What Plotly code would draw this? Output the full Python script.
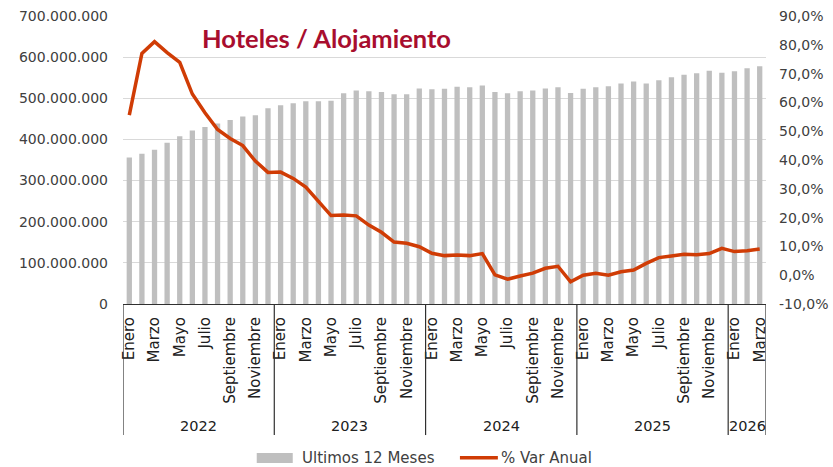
import plotly.graph_objects as go

# Monthly series, Jan 2022 - Mar 2026
years = ["2022", "2023", "2024", "2025", "2026"]
months_per_year = [12, 12, 12, 12, 3]
month_names = ["Enero", "Febrero", "Marzo", "Abril", "Mayo", "Junio", "Julio",
               "Agosto", "Septiembre", "Octubre", "Noviembre", "Diciembre"]

# Rolling 12-month total
ultimos_12 = [
    356e6, 365e6, 375e6, 392e6, 408e6, 422e6, 430e6, 439e6, 447e6, 456e6, 459e6, 476e6,
    483e6, 488e6, 493e6, 493e6, 494e6, 512e6, 519e6, 517e6, 515e6, 510e6, 510e6, 524e6,
    522e6, 523e6, 528e6, 527e6, 531e6, 515e6, 512e6, 517e6, 519e6, 524e6, 527e6, 513e6,
    523e6, 527e6, 529e6, 536e6, 541e6, 536e6, 544e6, 551e6, 557e6, 561e6, 567e6, 562e6,
    566e6, 573e6, 578e6,
]

# Year-over-year change (%)
var_anual = [
    55.6, 77.0, 81.1, 77.3, 73.9, 62.9, 56.4, 50.6, 47.5, 45.0, 39.6, 35.7,
    35.8, 33.6, 30.6, 25.5, 20.7, 20.9, 20.6, 17.4, 14.9, 11.5, 11.1, 9.9,
    7.6, 6.8, 7.0, 6.8, 7.5, 0.1, -1.4, -0.3, 0.7, 2.4, 3.1, -2.3,
    0.0, 0.7, 0.0, 1.2, 1.8, 4.1, 6.1, 6.7, 7.3, 7.1, 7.5, 9.3,
    8.2, 8.5, 9.1,
]

pct_ticks = [-10, 0, 10, 20, 30, 40, 50, 60, 70, 80, 90]
pct_tick_text = ["-10,0%", "0,0%", "10,0%", "20,0%", "30,0%", "40,0%",
                 "50,0%", "60,0%", "70,0%", "80,0%", "90,0%"]

series_names = ["Ultimos 12 Meses", "% Var Anual"]

# Build month labels and positions
labels = []
for y, n in zip(years, months_per_year):
    labels += month_names[:n]
x = list(range(len(labels)))
shown = [i for i in x if i % 2 == 0]

FONT = "DejaVu Sans, sans-serif"
TXT = "#404040"
BAR = "#BFBFBF"
LINE = "#D03C05"

fig = go.Figure()
fig.add_trace(go.Bar(
    x=x, y=ultimos_12, name=series_names[0],
    marker=dict(color=BAR, line=dict(width=0)),
    yaxis="y", showlegend=False,
))
fig.add_trace(go.Scatter(
    x=x, y=var_anual, name=series_names[1], mode="lines",
    line=dict(color=LINE, width=3.5),
    yaxis="y2", showlegend=False,
))

shapes = []
annotations = []
# Year group separators and labels below the month labels
start = 0
bounds = [-0.5]
for y, n in zip(years, months_per_year):
    end = start + n
    bounds.append(end - 0.5)
    annotations.append(dict(
        x=(start + end - 1) / 2, y=-0.425, xref="x", yref="paper",
        text=y, showarrow=False, font=dict(family=FONT, size=14.5, color="#202020"),
        xanchor="center", yanchor="middle",
    ))
    start = end
for b in bounds:
    shapes.append(dict(type="line", xref="x", yref="paper",
                       x0=b, x1=b, y0=0, y1=-0.455,
                       line=dict(color="#303030", width=1.2)))

# Legend drawn beneath the axis
shapes.append(dict(type="rect", xref="paper", yref="paper",
                   x0=0.208, x1=0.264, y0=-0.552, y1=-0.517,
                   fillcolor=BAR, line=dict(width=0)))
annotations.append(dict(x=0.275, y=-0.534, xref="paper", yref="paper",
                        text=series_names[0], showarrow=False,
                        font=dict(family=FONT, size=15, color=TXT),
                        xanchor="left", yanchor="middle"))
shapes.append(dict(type="line", xref="paper", yref="paper",
                   x0=0.524, x1=0.583, y0=-0.534, y1=-0.534,
                   line=dict(color=LINE, width=3.5)))
annotations.append(dict(x=0.584, y=-0.534, xref="paper", yref="paper",
                        text=series_names[1], showarrow=False,
                        font=dict(family=FONT, size=15, color=TXT),
                        xanchor="left", yanchor="middle"))

annotations.append(dict(
    x=0.317, y=0.923, xref="paper", yref="paper",
    text="<b>Hoteles / Alojamiento</b>", showarrow=False,
    font=dict(family="Lato, sans-serif", size=25.5, color="#A80D2E"),
    xanchor="center", yanchor="middle",
))

fig.update_layout(
    width=833, height=467,
    margin=dict(l=123, r=67, t=16, b=163, autoexpand=False),
    paper_bgcolor="white", plot_bgcolor="white",
    separators=",.",
    bargap=0.58,
    font=dict(family=FONT, size=14, color=TXT),
    showlegend=False,
    xaxis=dict(
        range=[-0.5, len(labels) - 0.5],
        tickmode="array", tickvals=shown, ticktext=[labels[i] for i in shown],
        tickangle=-90, showgrid=False, ticks="", ticklabelstandoff=6,
        showline=True, linecolor="#303030", linewidth=1.2, automargin=False,
        tickfont=dict(family=FONT, size=15, color="#202020"),
    ),
    yaxis=dict(
        range=[0, 700e6], dtick=100e6, tickformat=",.0f",
        showgrid=True, gridcolor="#D9D9D9", gridwidth=1,
        zeroline=False, showline=False, ticks="", automargin=False,
        ticklabelstandoff=14,
        tickfont=dict(family=FONT, size=14, color=TXT),
    ),
    yaxis2=dict(
        range=[-10, 90], overlaying="y", side="right",
        tickmode="array", tickvals=pct_ticks, ticktext=pct_tick_text,
        showgrid=False, zeroline=False, showline=False, ticks="",
        ticklabelstandoff=12, automargin=False,
        tickfont=dict(family=FONT, size=14, color=TXT),
    ),
    shapes=shapes,
    annotations=annotations,
)

fig.write_html("out.html")
